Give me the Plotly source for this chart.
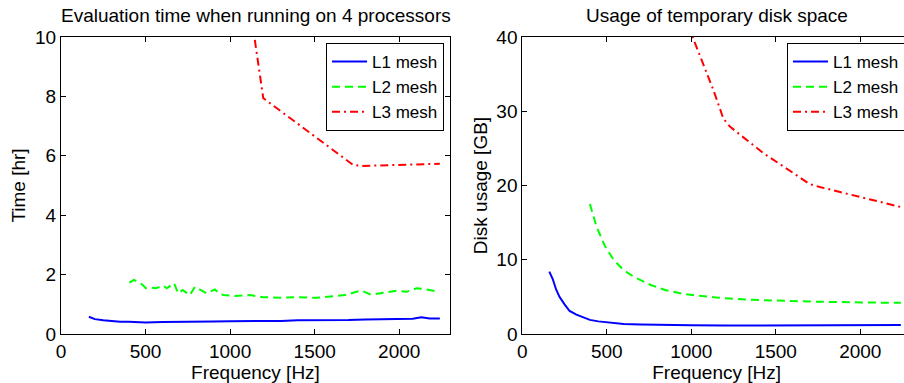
import plotly.graph_objects as go

# Evaluation time on 4 processors [hr]
time_l1_f = [165, 200, 250, 300, 350, 400, 500, 600, 700, 800, 850, 900, 1000, 1100,
             1200, 1300, 1400, 1500, 1600, 1700, 1800, 1900, 2000, 2080, 2130, 2180, 2240]
time_l1 = [0.58, 0.50, 0.46, 0.43, 0.41, 0.41, 0.39, 0.40, 0.40, 0.42, 0.40, 0.42, 0.43, 0.43,
           0.45, 0.44, 0.46, 0.46, 0.47, 0.47, 0.49, 0.50, 0.50, 0.51, 0.56, 0.52, 0.52]

time_l2_f = [404, 431, 477, 502, 536, 561, 605, 625, 668, 693, 719, 762, 792, 861, 910,
             930, 959, 1028, 1117, 1196, 1294, 1383, 1511, 1610, 1679, 1747, 1777, 1826,
             1856, 1905, 1984, 2043, 2102, 2151, 2230]
time_l2 = [1.73, 1.82, 1.68, 1.54, 1.56, 1.54, 1.63, 1.54, 1.71, 1.37, 1.48, 1.31, 1.59, 1.37, 1.50,
           1.40, 1.31, 1.28, 1.31, 1.24, 1.22, 1.24, 1.22, 1.26, 1.31, 1.42, 1.46, 1.34,
           1.34, 1.39, 1.46, 1.42, 1.54, 1.51, 1.42]

time_l3_f = [1100, 1196, 1300, 1400, 1500, 1600, 1728, 1780, 1900, 2000, 2100, 2240]
time_l3 = [11.7, 7.94, 7.50, 7.08, 6.65, 6.23, 5.69, 5.66, 5.67, 5.69, 5.71, 5.73]

# Temporary disk usage [GB]
disk_l1_f = [160, 180, 200, 220, 250, 280, 320, 360, 400, 450, 500, 600, 700, 800,
             1000, 1200, 1500, 1800, 2000, 2240]
disk_l1 = [8.4, 7.4, 6.0, 5.0, 4.0, 3.1, 2.6, 2.2, 1.9, 1.7, 1.55, 1.35, 1.28, 1.22,
           1.18, 1.13, 1.13, 1.15, 1.18, 1.2]

disk_l2_f = [400, 440, 490, 540, 600, 660, 760, 850, 950, 1050, 1150, 1350, 1550, 1750, 2000, 2240]
disk_l2 = [17.5, 14.4, 11.8, 10.0, 8.6, 7.7, 6.6, 5.9, 5.4, 5.1, 4.9, 4.6, 4.45, 4.35, 4.25, 4.2]

disk_l3_f = [980, 1010, 1070, 1130, 1190, 1230, 1330, 1430, 1530, 1630, 1700, 1760,
             1920, 2080, 2240]
disk_l3 = [41.6, 39.9, 36.5, 32.9, 29.0, 27.9, 26.1, 24.3, 22.8, 21.2, 20.2, 19.8,
           18.9, 18.0, 17.1]

names = ["L1 mesh", "L2 mesh", "L3 mesh"]
colors = ["#0000ff", "#00ff00", "#ff0000"]
dashes = ["solid", "8px,5px", "8px,4px,2px,4px"]

W, H = 930, 383
FONT = "Liberation Sans, Arial, Helvetica, sans-serif"
FS = 19
LEG_FS = 17

fig = go.Figure()

left = [(time_l1_f, time_l1), (time_l2_f, time_l2), (time_l3_f, time_l3)]
right = [(disk_l1_f, disk_l1), (disk_l2_f, disk_l2), (disk_l3_f, disk_l3)]

for i, (fx, fy) in enumerate(left):
    fig.add_trace(go.Scatter(x=fx, y=fy, mode="lines", name=names[i],
                             line=dict(color=colors[i], width=2, dash=dashes[i]),
                             xaxis="x", yaxis="y", legend="legend"))
for i, (fx, fy) in enumerate(right):
    fig.add_trace(go.Scatter(x=fx, y=fy, mode="lines", name=names[i],
                             line=dict(color=colors[i], width=2, dash=dashes[i]),
                             xaxis="x2", yaxis="y2", legend="legend2"))

def px_x(v):
    return v / W

def px_y(v):
    return 1 - v / H

axis_common = dict(showline=True, linecolor="black", linewidth=1, mirror="ticks",
                   ticks="inside", ticklen=5, tickcolor="black", showgrid=False,
                   zeroline=False, automargin=False,
                   tickfont=dict(size=FS, color="black"),
                   title_font=dict(size=FS, color="black"))

ydom = [px_y(334), px_y(37)]
legend_common = dict(xanchor="right", yanchor="top", bgcolor="white",
                     bordercolor="black", borderwidth=1, font=dict(size=LEG_FS),
                     tracegroupgap=0, itemwidth=35)

fig.update_layout(
    width=W, height=H,
    margin=dict(l=0, r=0, t=0, b=0),
    paper_bgcolor="white", plot_bgcolor="white",
    font=dict(family=FONT, size=FS, color="black"),
    xaxis=dict(domain=[px_x(61), px_x(450)], range=[0, 2300], tickvals=[0, 500, 1000, 1500, 2000],
               title=dict(text="Frequency [Hz]", standoff=0), anchor="y", **axis_common),
    yaxis=dict(domain=ydom, range=[0, 10], tickvals=[0, 2, 4, 6, 8, 10],
               title=dict(text="Time [hr]", standoff=4), anchor="x", **axis_common),
    xaxis2=dict(domain=[px_x(522.3), px_x(911)], range=[0, 2300], tickvals=[0, 500, 1000, 1500, 2000],
                title=dict(text="Frequency [Hz]", standoff=0), anchor="y2", **axis_common),
    yaxis2=dict(domain=ydom, range=[0, 40], tickvals=[0, 10, 20, 30, 40],
                title=dict(text="Disk usage [GB]", standoff=3), anchor="x2", **axis_common),
    legend=dict(x=px_x(444), y=px_y(43), **legend_common),
    legend2=dict(x=px_x(905), y=px_y(43), **legend_common),
    annotations=[
        dict(text="Evaluation time when running on 4 processors", x=px_x(255.5), y=px_y(16),
             xref="paper", yref="paper", xanchor="center", yanchor="middle",
             showarrow=False, font=dict(size=FS)),
        dict(text="Usage of temporary disk space", x=px_x(716.5), y=px_y(16),
             xref="paper", yref="paper", xanchor="center", yanchor="middle",
             showarrow=False, font=dict(size=FS)),
    ],
)

fig.write_html("out.html", post_script=(
    "document.documentElement.style.overflow='hidden';"
    "document.body.style.overflow='hidden';"
))
